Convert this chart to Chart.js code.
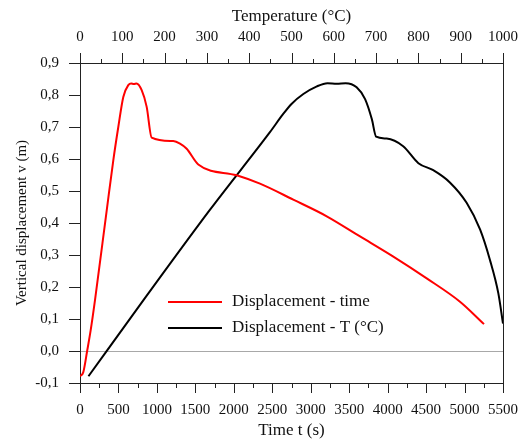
<!DOCTYPE html>
<html>
<head>
<meta charset="utf-8">
<script src="https://cdn.jsdelivr.net/npm/chart.js@4"></script>
<style>
  html, body { margin: 0; padding: 0; background: #fff; }
  #wrap { width: 520px; height: 441px; }
</style>
</head>
<body>
<div id="wrap"><canvas id="chart" width="520" height="441"></canvas></div>
<script>
// displacement vs time (bottom axis)
const timeS = [0, 43, 95, 139, 195, 347, 433, 498, 563, 628, 665, 700, 735, 802, 867, 932,
    1213, 1300, 1387, 1538, 2037, 2340, 2773, 3208, 3641, 4074, 4508, 4941, 5253];
const dispTime = [-0.079, -0.066, 0.003, 0.065, 0.159, 0.439, 0.596, 0.70, 0.794, 0.831, 0.836, 0.834, 0.836, 0.815, 0.763, 0.667,
    0.656, 0.648, 0.632, 0.583, 0.549, 0.523, 0.473, 0.421, 0.358, 0.295, 0.227, 0.154, 0.084];

// displacement vs temperature (top axis)
const tempC = [20, 150, 307, 449, 480, 500, 528, 560, 585, 607, 628, 654, 674, 690, 700, 725, 764,
    800, 835, 875, 914, 946, 969, 989, 1000];
const dispTemp = [-0.079, 0.159, 0.441, 0.684, 0.740, 0.772, 0.803, 0.827, 0.837, 0.835, 0.837, 0.824, 0.787, 0.724, 0.670, 0.664, 0.640,
    0.587, 0.565, 0.526, 0.463, 0.379, 0.285, 0.180, 0.086];

const seriesLabels = ['Displacement - time', 'Displacement - T (°C)'];
const xTitle = 'Time t (s)';
const x2Title = 'Temperature (°C)';
const yTitle = 'Vertical displacement v (m)';

const FONT = 'Liberation Serif';
const AXIS_COLOR = '#222';
const TEXT_COLOR = '#111';

// tick marks: major + minor, drawn from the scales
const tickMarks = {
    id: 'tickMarks',
    afterDraw(chart) {
        const ctx = chart.ctx;
        const area = chart.chartArea;
        const x = chart.scales.x;
        const x2 = chart.scales.x2;
        const y = chart.scales.y;
        ctx.save();
        ctx.strokeStyle = AXIS_COLOR;
        ctx.lineWidth = 1;
        ctx.beginPath();
        for (let v = 0; v <= 5500; v += 250) {
            const px = Math.round(x.getPixelForValue(v)) + 0.5;
            const len = v % 500 === 0 ? 10 : 5;
            ctx.moveTo(px, area.bottom);
            ctx.lineTo(px, area.bottom + len);
        }
        for (let v = 0; v <= 1000; v += 50) {
            const px = Math.round(x2.getPixelForValue(v)) + 0.5;
            const len = v % 100 === 0 ? 10 : 4;
            ctx.moveTo(px, area.top);
            ctx.lineTo(px, area.top - len);
        }
        for (let i = -1; i <= 9; i++) {
            const py = Math.round(y.getPixelForValue(i / 10)) + 0.5;
            ctx.moveTo(area.left, py);
            ctx.lineTo(area.left - 11, py);
        }
        // right frame
        const rx = Math.round(area.right) + 0.5;
        ctx.moveTo(rx, area.top);
        ctx.lineTo(rx, area.bottom);
        ctx.stroke();
        ctx.restore();
    }
};

const innerLegend = {
    id: 'innerLegend',
    afterDraw(chart) {
        const ctx = chart.ctx;
        const area = chart.chartArea;
        ctx.save();
        ctx.font = '17px "' + FONT + '"';
        ctx.textBaseline = 'middle';
        chart.data.datasets.forEach((ds, i) => {
            const yy = area.top + 239 + i * 26;
            ctx.strokeStyle = ds.borderColor;
            ctx.lineWidth = 2;
            ctx.beginPath();
            ctx.moveTo(area.left + 88, yy);
            ctx.lineTo(area.left + 142, yy);
            ctx.stroke();
            ctx.fillStyle = TEXT_COLOR;
            ctx.fillText(ds.label, area.left + 152, yy);
        });
        ctx.restore();
    }
};

function fitHorizontal(height) {
    return (scale) => {
        scale.height = height;
        scale.paddingLeft = 0;
        scale.paddingRight = 17;
    };
}

new Chart(document.getElementById('chart'), {
    type: 'line',
    plugins: [tickMarks, innerLegend],
    data: {
        datasets: [
            {
                label: seriesLabels[0],
                data: timeS.map((t, i) => ({ x: t, y: dispTime[i] })),
                xAxisID: 'x',
                yAxisID: 'y',
                borderColor: '#ff0000',
                borderWidth: 2,
                pointRadius: 0,
                cubicInterpolationMode: 'monotone',
                fill: false,
            },
            {
                label: seriesLabels[1],
                data: tempC.map((t, i) => ({ x: t, y: dispTemp[i] })),
                xAxisID: 'x2',
                yAxisID: 'y',
                borderColor: '#000000',
                borderWidth: 2,
                pointRadius: 0,
                cubicInterpolationMode: 'monotone',
                fill: false,
            },
        ],
    },
    options: {
        responsive: false,
        animation: false,
        events: [],
        layout: { padding: 0 },
        plugins: {
            legend: { display: false },
            tooltip: { enabled: false },
        },
        scales: {
            x: {
                type: 'linear',
                position: 'bottom',
                min: 0,
                max: 5500,
                grid: { drawOnChartArea: false, drawTicks: false },
                border: { color: AXIS_COLOR, width: 1 },
                ticks: {
                    stepSize: 500,
                    autoSkip: false,
                    maxRotation: 0,
                    padding: 18,
                    color: TEXT_COLOR,
                    font: { family: FONT, size: 15 },
                    callback: (v) => String(v),
                },
                title: {
                    display: true,
                    text: xTitle,
                    color: TEXT_COLOR,
                    font: { family: FONT, size: 17 },
                    padding: { top: 0, bottom: 0 },
                },
                afterFit: fitHorizontal(58),
            },
            x2: {
                type: 'linear',
                position: 'top',
                min: 0,
                max: 1000,
                grid: { drawOnChartArea: false, drawTicks: false },
                border: { color: AXIS_COLOR, width: 1 },
                ticks: {
                    stepSize: 100,
                    autoSkip: false,
                    maxRotation: 0,
                    padding: 17,
                    color: TEXT_COLOR,
                    font: { family: FONT, size: 15 },
                    callback: (v) => String(v),
                },
                title: {
                    display: true,
                    text: x2Title,
                    color: TEXT_COLOR,
                    font: { family: FONT, size: 17 },
                    padding: { top: 6, bottom: 0 },
                },
                afterFit: fitHorizontal(63),
            },
            y: {
                min: -0.1,
                max: 0.9,
                grid: {
                    drawTicks: false,
                    color: (ctx) => (ctx.tick && Math.abs(ctx.tick.value) < 1e-9 ? '#a8a8a8' : 'rgba(0,0,0,0)'),
                    lineWidth: 1,
                },
                border: { color: AXIS_COLOR, width: 1 },
                ticks: {
                    stepSize: 0.1,
                    padding: 21,
                    color: TEXT_COLOR,
                    font: { family: FONT, size: 15 },
                    callback: (v) => v.toFixed(1).replace('.', ','),
                },
                title: {
                    display: true,
                    text: yTitle,
                    color: TEXT_COLOR,
                    font: { family: FONT, size: 15 },
                    padding: { top: 13, bottom: 0 },
                },
                afterFit(scale) { scale.width = 80; },
            },
        },
    },
});
</script>
</body>
</html>
